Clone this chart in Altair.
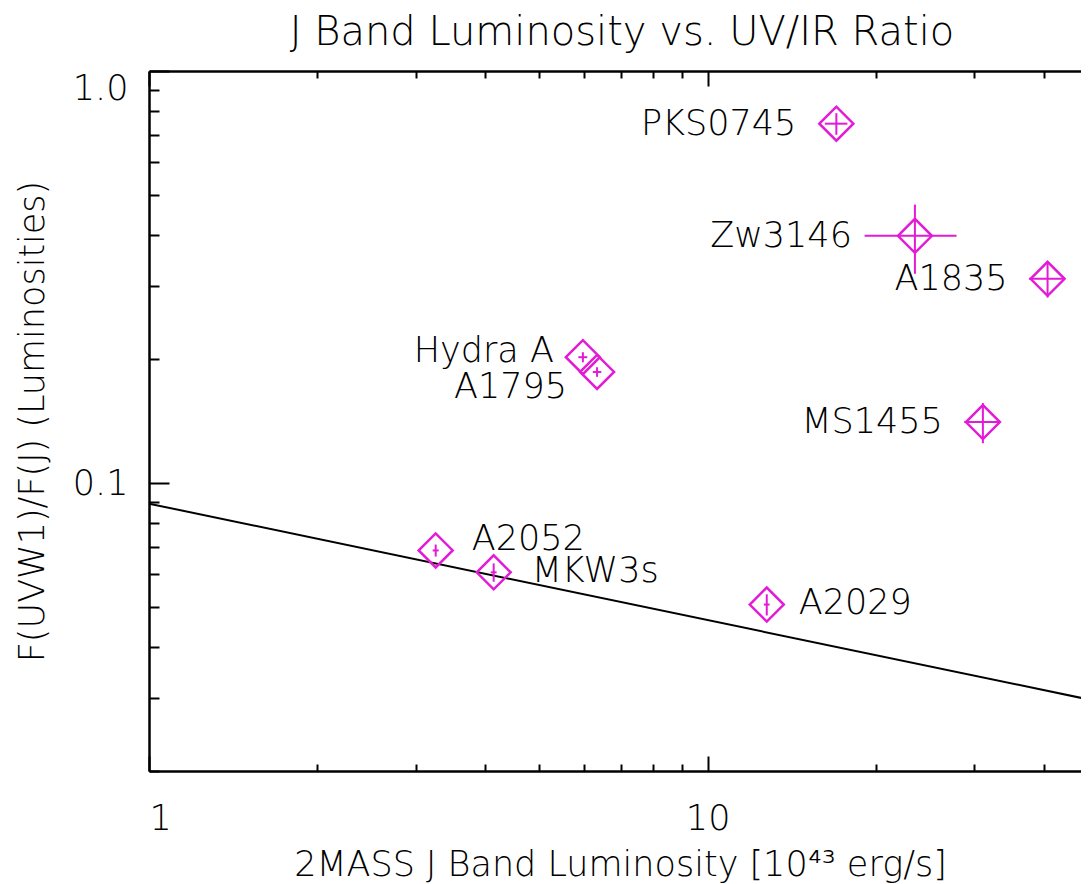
import altair as alt
import pandas as pd

# ---- data ----
names = ["PKS0745", "Zw3146", "A1835", "MS1455", "Hydra A", "A1795", "A2052", "MKW3s", "A2029"]
lum_j = [17.0, 23.5, 40.6, 31.1, 5.98, 6.34, 3.26, 4.14, 12.76]
lum_j_err = [0.79, 4.4, 3.0, 2.3, 0.11, 0.11, 0.04, 0.05, 0.15]
uv_ir_ratio = [0.745, 0.398, 0.313, 0.1406, 0.202, 0.186, 0.0686, 0.0607, 0.0507]
uv_ir_err = [0.045, 0.076, 0.031, 0.0157, 0.0057, 0.005, 0.0023, 0.0031, 0.003]

fit_x = [1.0, 50.0]
fit_y = [0.0891, 0.0295]

x_ticks = [1, 2, 3, 4, 5, 6, 7, 8, 9, 10, 20, 30, 40]
x_labels = [1, 10]
y_ticks = [0.02, 0.03, 0.04, 0.05, 0.06, 0.07, 0.08, 0.09, 0.1,
           0.2, 0.3, 0.4, 0.5, 0.6, 0.7, 0.8, 0.9, 1.0]
y_labels = [0.1, 1.0]

df = pd.DataFrame({"name": names, "x": lum_j, "xerr": lum_j_err,
                   "y": uv_ir_ratio, "yerr": uv_ir_err})
df["x_lo"] = df["x"] - df["xerr"]
df["x_hi"] = df["x"] + df["xerr"]
df["y_lo"] = df["y"] - df["yerr"]
df["y_hi"] = df["y"] + df["yerr"]
fit = pd.DataFrame({"x": fit_x, "y": fit_y})

# ---- styling ----
W, H = 932, 700
FONT = "DejaVu Sans"
FW = 200
FS = 35
MAG = "#e31ad6"

xscale = alt.Scale(type="log", domain=[1, 46.6], nice=False)
yscale = alt.Scale(type="log", domain=[0.02, 1.0], nice=False)

x_major = {"condition": {"test": "datum.value == 1 || datum.value == 10", "value": 15}, "value": 7}
y_major = {"condition": {"test": "datum.value == 0.1 || datum.value == 1", "value": 20}, "value": 10}

# fit line + labelled axes
line = alt.Chart(fit).mark_line(color="black", strokeWidth=2, clip=True).encode(
    x=alt.X("x:Q", scale=xscale, axis=alt.Axis(
        orient="bottom", values=x_labels, format="d", ticks=False, grid=False,
        domainColor="black", domainWidth=2.5,
        labelFont=FONT, labelFontSize=FS, labelFontWeight=FW, labelColor="black",
        labelPadding=30,
        title="2MASS J Band Luminosity [10⁴³ erg/s]", titleFont=FONT, titleFontSize=FS,
        titleFontWeight=FW, titleColor="black", titleX=471, titleY=104,
        titleBaseline="alphabetic", titleAlign="center")),
    y=alt.Y("y:Q", scale=yscale, axis=alt.Axis(
        orient="left", values=y_labels, format=".1f", ticks=False, grid=False,
        domainColor="black", domainWidth=2.5, labelFlush=True,
        labelFont=FONT, labelFontSize=FS, labelFontWeight=FW, labelColor="black",
        labelPadding=21,
        title="F(UVW1)/F(J) (Luminosities)", titleFont=FONT, titleFontSize=FS,
        titleFontWeight=FW, titleColor="black", titleX=-106, titleY=H / 2,
        titleAngle=270, titleBaseline="alphabetic", titleAlign="center")),
)

# diamonds + inward ticks on bottom and left edges
points = alt.Chart(df).mark_point(shape="diamond", size=1156, filled=False, color=MAG,
                                  strokeWidth=2.5, opacity=1).encode(
    x=alt.X("x:Q", scale=xscale, axis=alt.Axis(
        orient="top", offset=-H, values=x_ticks, labels=False, domain=False, grid=False,
        title=None, tickColor="black", tickWidth=2, tickSize=x_major)),
    y=alt.Y("y:Q", scale=yscale, axis=alt.Axis(
        orient="right", offset=-W, values=y_ticks, labels=False, domain=False, grid=False,
        title=None, tickColor="black", tickWidth=2, tickSize=y_major)),
)

# error bars
xerr = alt.Chart(df).mark_rule(color=MAG, strokeWidth=2).encode(
    x=alt.X("x_lo:Q", scale=xscale, axis=None), x2="x_hi:Q",
    y=alt.Y("y:Q", scale=yscale, axis=None))
yerr = alt.Chart(df).mark_rule(color=MAG, strokeWidth=2).encode(
    x=alt.X("x:Q", scale=xscale, axis=None),
    y=alt.Y("y_lo:Q", scale=yscale, axis=None), y2="y_hi:Q")

# top border with inward ticks (carried by an invisible layer)
top_axis = alt.Chart(df).mark_point(opacity=0).encode(
    x=alt.X("x:Q", scale=xscale, axis=alt.Axis(
        orient="bottom", offset=-H, values=x_ticks, labels=False, domain=True,
        domainColor="black", domainWidth=2.5, grid=False, title=None,
        tickColor="black", tickWidth=2, tickSize=x_major)),
    y=alt.Y("y:Q", scale=yscale, axis=None),
)


def labels(subset, align, dx, dy=0):
    return alt.Chart(df).transform_filter(
        alt.FieldOneOfPredicate(field="name", oneOf=subset)
    ).mark_text(align=align, baseline="middle", dx=dx, dy=dy, font=FONT,
                fontSize=FS, fontWeight=FW, color="black").encode(
        x=alt.X("x:Q", scale=xscale, axis=None),
        y=alt.Y("y:Q", scale=yscale, axis=None),
        text="name:N")


text_layers = [
    labels(["PKS0745", "A1835", "MS1455"], "right", -40),
    labels(["Zw3146"], "right", -63),
    labels(["Hydra A"], "right", -29, -6),
    labels(["A1795"], "right", -30, 15),
    labels(["A2052"], "left", 36, -11),
    labels(["MKW3s"], "left", 38, -1),
    labels(["A2029"], "left", 32, -2),
]

chart = alt.layer(line, top_axis, xerr, yerr, points, *text_layers).resolve_axis(
    x="independent", y="independent"
).properties(
    width=W, height=H,
    title=alt.Title("J Band Luminosity vs. UV/IR Ratio", font=FONT, fontSize=40,
                    fontWeight=FW, color="black", anchor="middle",
                    baseline="alphabetic", offset=21, dy=36, dx=7),
    autosize=alt.AutoSizeParams(type="none"),
    padding={"left": 141, "top": 63, "right": 0, "bottom": 113},
).configure_view(stroke=None).configure(background="white")

chart.save("out.html", embed_options={"renderer": "svg", "actions": False})
